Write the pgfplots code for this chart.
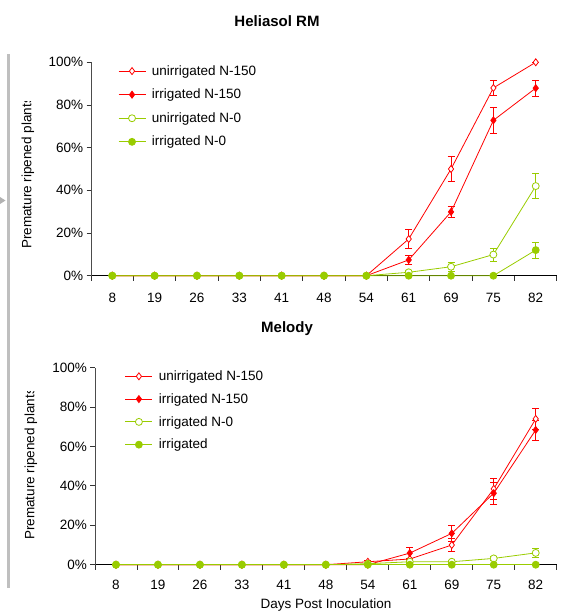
\documentclass[border=0pt]{standalone}
\usepackage{pgfplots}
\usepackage{pgfplotstable}
\pgfplotsset{compat=1.18}
\usepackage{fontspec}
\setmainfont{Liberation Sans}

\definecolor{exred}{RGB}{255,0,0}
\definecolor{exgreen}{RGB}{153,204,0}
\newcommand\fsz{\fontsize{13.5}{16}\selectfont}

% Heliasol RM: days 8..82 plotted at 0..10, values and errors in percent
\pgfplotstableread{
x uN150 euN150 iN150 eiN150 uN0 euN0 iN0 eiN0
0 0 0 0 0 0 0 0 0
1 0 0 0 0 0 0 0 0
2 0 0 0 0 0 0 0 0
3 0 0 0 0 0 0 0 0
4 0 0 0 0 0 0 0 0
5 0 0 0 0 0 0 0 0
6 0 0 0 0 0 0 0 0
7 17.2 4.4 7.4 2.1 1.6 1.0 0 0
8 50 5.8 29.9 2.8 4.2 2.1 0 0
9 88 3.7 72.8 5.9 9.9 3.1 0 0
10 100 0 87.9 3.8 42 6.0 12 3.8
}\topdata

% Melody
\pgfplotstableread{
x uN150 euN150 iN150 eiN150 iN0 eiN0 irr eirr
0 0 0 0 0 0 0 0 0
1 0 0 0 0 0 0 0 0
2 0 0 0 0 0 0 0 0
3 0 0 0 0 0 0 0 0
4 0 0 0 0 0 0 0 0
5 0 0 0 0 0 0 0 0
6 1.5 0.8 0 0 0.5 0 0 0
7 2.9 0 5.9 2.7 1.5 0.8 0 0
8 10 3.3 15.9 4.0 1.5 0.8 0 0
9 38.5 5.5 36.3 5.5 3.2 1.2 0 0
10 74 5.2 68.4 5.1 6 2.5 0 0
}\botdata

\pgfplotsset{
  panel/.style={
    scale only axis,
    xmin=-0.5, xmax=10.5, ymin=0, ymax=100,
    axis x line=bottom, axis y line=left,
    x axis line style={-, line width=0.9pt, black},
    y axis line style={-, line width=0.9pt, black!70},
    xtick={0,...,10},
    xticklabels={8,19,26,33,41,48,54,61,69,75,82},
    minor xtick={-0.5,0.5,...,10.5},
    major x tick style={draw=none},
    tick align=outside,
    major tick length=4.5pt, minor tick length=5pt,
    tick style={line width=0.9pt, black!80},
    ytick={0,20,...,100},
    yticklabel={\pgfmathprintnumber{\tick}\%},
    /pgf/number format/assume math mode=true,
    ticklabel style={font=\fsz},
    clip=false,
    legend style={draw=none, fill=none, font=\fsz, anchor=north west,
      inner sep=0pt, outer sep=0pt, column sep=5pt,
      nodes={inner sep=1pt}},
    legend cell align=left,
    legend image code/.code={%
      \draw[mark repeat=2, mark phase=2, ##1]
        plot coordinates {(0pt,0pt) (13.5pt,0pt) (27pt,0pt)};},
  },
  ser/.style={color=#1, line width=0.8pt, mark size=3.5pt,
    mark options={solid, line width=0.8pt},
    error bars/y dir=both, error bars/y explicit,
    error bars/error bar style={color=#1, line width=0.8pt},
    error bars/error mark options={color=#1, rotate=90, mark size=3.5pt,
      line width=0.8pt}},
}

\begin{document}
\begin{tikzpicture}
\useasboundingbox (0,0) rectangle (565pt,-613pt);

% slide decoration on the left
\draw[black!25, line width=2.5pt] (8.3pt,-54pt) -- (8.3pt,-588pt);
\fill[black!30] (0pt,-197pt) -- (5.5pt,-200.5pt) -- (0pt,-204pt) -- cycle;

\node[font=\fontsize{15}{18}\selectfont\bfseries] at (277pt,-20.7pt) {Heliasol RM};
\node[font=\fontsize{15}{18}\selectfont\bfseries] at (287pt,-328.3pt) {Melody};

\begin{scope}
\clip (0pt,-101pt) rectangle (60pt,-300pt);
\node[font=\fsz, rotate=90] at (28pt,-173pt) {Premature ripened plants};
\end{scope}
\begin{scope}
\clip (0pt,-391pt) rectangle (60pt,-600pt);
\node[font=\fsz, rotate=90] at (31pt,-464pt) {Premature ripened plants};
\end{scope}
\node[font=\fsz, anchor=north, inner sep=0pt] at (326pt,-599pt) {Days Post Inoculation};

\begin{axis}[panel,
  at={(91.1pt,-275.7pt)}, anchor=south west,
  width=465.8pt, height=213.4pt,
  xticklabel style={yshift=-9pt},
  legend style={at={(0.058,0.99)}, row sep=10.3pt},
]
\addplot[ser=exred, mark=diamond*, mark options={fill=white}]
  table[x=x, y=uN150, y error=euN150] {\topdata};
\addlegendentry{unirrigated N-150}
\addplot[ser=exred, mark=diamond*, mark options={fill=exred}]
  table[x=x, y=iN150, y error=eiN150] {\topdata};
\addlegendentry{irrigated N-150}
\addplot[ser=exgreen, mark=*, mark options={fill=white}]
  table[x=x, y=uN0, y error=euN0] {\topdata};
\addlegendentry{unirrigated N-0}
\addplot[ser=exgreen, mark=*, mark options={fill=exgreen}]
  table[x=x, y=iN0, y error=eiN0] {\topdata};
\addlegendentry{irrigated N-0}
\end{axis}

\begin{axis}[panel,
  at={(95pt,-564.7pt)}, anchor=south west,
  width=461.7pt, height=197pt,
  xticklabel style={yshift=-7pt},
  legend style={at={(0.065,0.99)}, row sep=9.5pt},
]
\addplot[ser=exred, mark=diamond*, mark options={fill=white}]
  table[x=x, y=uN150, y error=euN150] {\botdata};
\addlegendentry{unirrigated N-150}
\addplot[ser=exred, mark=diamond*, mark options={fill=exred}]
  table[x=x, y=iN150, y error=eiN150] {\botdata};
\addlegendentry{irrigated N-150}
\addplot[ser=exgreen, mark=*, mark options={fill=white}]
  table[x=x, y=iN0, y error=eiN0] {\botdata};
\addlegendentry{irrigated N-0}
\addplot[ser=exgreen, mark=*, mark options={fill=exgreen}]
  table[x=x, y=irr, y error=eirr] {\botdata};
\addlegendentry{irrigated}
\end{axis}
\end{tikzpicture}
\end{document}
